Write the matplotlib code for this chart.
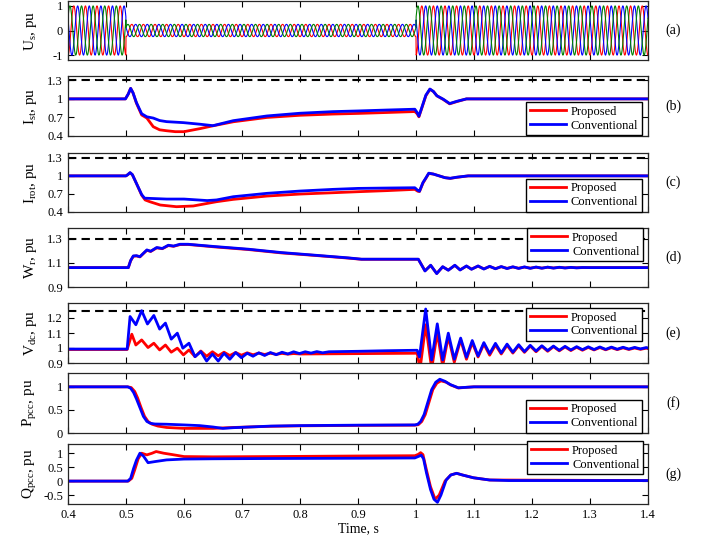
import numpy as np
import matplotlib
matplotlib.use("Agg")
import matplotlib.pyplot as plt

plt.rcParams["font.family"] = ["Liberation Serif", "DejaVu Serif"]
plt.rcParams["mathtext.fontset"] = "custom"
plt.rcParams["mathtext.rm"] = "Liberation Serif"
plt.rcParams["mathtext.it"] = "Liberation Serif"

# ----- data
# (a) grid voltage: 50 Hz three phase, amplitude per segment
us_seg_start = [0.4, 0.5, 1.0]
us_seg_end = [0.5, 1.0, 1.4]
us_seg_amp = [1.0, 0.25, 1.0]
us_freq = 50.0
us_colors = ["red", "blue", "green"]

# (b) stator current
ist_t_prop = [0.4, 0.499, 0.504, 0.508, 0.512, 0.518, 0.527, 0.536, 0.547, 0.558, 0.570,
              0.585, 0.600, 0.628, 0.650, 0.685, 0.743, 0.800, 0.857, 0.900, 0.950, 0.998,
              1.002, 1.005, 1.010, 1.017, 1.024, 1.030, 1.036, 1.047, 1.058, 1.070, 1.087, 1.4]
ist_prop = [1.0, 1.0, 1.08, 1.17, 1.10, 0.93, 0.74, 0.69, 0.55, 0.50, 0.485,
            0.47, 0.47, 0.52, 0.565, 0.63, 0.70, 0.735, 0.755, 0.765, 0.78, 0.795,
            0.76, 0.71, 0.85, 1.05, 1.155, 1.12, 1.05, 0.99, 0.92, 0.955, 1.0, 1.0]
ist_t_conv = [0.4, 0.499, 0.504, 0.508, 0.512, 0.518, 0.527, 0.536, 0.547, 0.558, 0.570,
              0.599, 0.628, 0.650, 0.685, 0.743, 0.800, 0.857, 0.900, 0.950, 0.998,
              1.002, 1.005, 1.010, 1.017, 1.024, 1.030, 1.036, 1.047, 1.058, 1.070, 1.087, 1.4]
ist_conv = [1.0, 1.0, 1.08, 1.17, 1.10, 0.94, 0.76, 0.71, 0.69, 0.65, 0.632,
            0.616, 0.59, 0.567, 0.648, 0.724, 0.768, 0.794, 0.805, 0.82, 0.833,
            0.78, 0.72, 0.86, 1.06, 1.16, 1.12, 1.05, 0.995, 0.925, 0.96, 1.0, 1.0]

# (c) rotor current
irot_t_prop = [0.4, 0.5, 0.503, 0.507, 0.511, 0.518, 0.527, 0.533, 0.541, 0.559, 0.587,
               0.616, 0.656, 0.685, 0.743, 0.800, 0.857, 0.900, 0.950, 0.998,
               1.003, 1.006, 1.012, 1.017, 1.022, 1.030, 1.040, 1.050, 1.059, 1.070, 1.090, 1.4]
irot_prop = [1.0, 1.0, 1.02, 1.05, 1.02, 0.875, 0.68, 0.60, 0.571, 0.516, 0.488,
             0.50, 0.571, 0.61, 0.665, 0.698, 0.72, 0.737, 0.755, 0.776,
             0.745, 0.74, 0.88, 0.96, 1.04, 1.03, 1.0, 0.97, 0.958, 0.975, 1.0, 1.0]
irot_t_conv = [0.4, 0.5, 0.503, 0.507, 0.511, 0.518, 0.527, 0.532, 0.541, 0.570, 0.600,
               0.640, 0.656, 0.685, 0.743, 0.800, 0.857, 0.900, 0.950, 0.998,
               1.003, 1.006, 1.012, 1.017, 1.022, 1.030, 1.040, 1.050, 1.059, 1.070, 1.090, 1.4]
irot_conv = [1.0, 1.0, 1.02, 1.055, 1.02, 0.875, 0.69, 0.63, 0.626, 0.615, 0.615,
             0.59, 0.60, 0.654, 0.71, 0.748, 0.776, 0.792, 0.798, 0.803,
             0.76, 0.745, 0.89, 0.965, 1.045, 1.03, 1.0, 0.97, 0.96, 0.978, 1.0, 1.0]

# (d) rotor speed
wr_t = [0.4, 0.504, 0.508, 0.5126, 0.518, 0.524, 0.530, 0.536, 0.5425, 0.553, 0.5626,
        0.573, 0.582, 0.593, 0.607, 0.619, 0.653, 0.711, 0.768, 0.826, 0.883, 0.906,
        1.004, 1.0155, 1.0253, 1.0357, 1.046, 1.0557, 1.067, 1.076, 1.087, 1.0957,
        1.107, 1.117, 1.127, 1.137, 1.147, 1.157, 1.167, 1.177, 1.187, 1.197, 1.207,
        1.217, 1.227, 1.237, 1.247, 1.257, 1.267, 1.277, 1.287, 1.30, 1.4]
wr_conv = [1.061, 1.061, 1.12, 1.158, 1.16, 1.152, 1.18, 1.208, 1.197, 1.228, 1.22,
           1.247, 1.24, 1.255, 1.255, 1.25, 1.236, 1.214, 1.186, 1.164, 1.142, 1.131,
           1.131, 1.033, 1.081, 1.011, 1.069, 1.039, 1.081, 1.041, 1.075, 1.047,
           1.075, 1.049, 1.072, 1.051, 1.070, 1.053, 1.068, 1.054, 1.067, 1.055, 1.066,
           1.056, 1.065, 1.057, 1.064, 1.058, 1.063, 1.059, 1.062, 1.061, 1.061]
wr_prop = [1.061, 1.061, 1.118, 1.155, 1.158, 1.15, 1.178, 1.205, 1.195, 1.225, 1.218,
           1.244, 1.238, 1.252, 1.253, 1.248, 1.233, 1.211, 1.183, 1.162, 1.140, 1.130,
           1.130, 1.035, 1.079, 1.013, 1.067, 1.041, 1.079, 1.043, 1.073, 1.049,
           1.073, 1.051, 1.070, 1.053, 1.068, 1.055, 1.066, 1.056, 1.065, 1.057, 1.064,
           1.057, 1.064, 1.058, 1.063, 1.059, 1.062, 1.060, 1.061, 1.061, 1.061]

# (e) DC-link voltage
vdc_t_conv = [0.4, 0.502, 0.507, 0.517, 0.527, 0.537, 0.548, 0.558, 0.568, 0.578, 0.5885,
              0.598, 0.6086, 0.619, 0.629, 0.639, 0.649, 0.659, 0.669, 0.679, 0.689,
              0.699, 0.709, 0.719, 0.729, 0.739, 0.749, 0.759, 0.769, 0.779, 0.789,
              0.799, 0.809, 0.819, 0.829, 0.839, 0.850, 0.900, 0.950, 1.002,
              1.006, 1.0167, 1.027, 1.0367, 1.046, 1.0557, 1.066, 1.077, 1.087, 1.097,
              1.107, 1.117, 1.127, 1.137, 1.147, 1.157, 1.167, 1.177, 1.187, 1.197,
              1.207, 1.217, 1.227, 1.237, 1.247, 1.257, 1.267, 1.277, 1.287, 1.297,
              1.307, 1.317, 1.327, 1.337, 1.347, 1.357, 1.367, 1.377, 1.387, 1.397, 1.4]
vdc_conv = [0.993, 0.993, 1.21, 1.155, 1.249, 1.16, 1.217, 1.126, 1.166, 1.059, 1.099,
            0.999, 1.032, 0.942, 0.976, 0.913, 0.96, 0.913, 0.965, 0.925, 0.97,
            0.935, 0.965, 0.945, 0.968, 0.95, 0.97, 0.955, 0.972, 0.96, 0.975,
            0.963, 0.975, 0.966, 0.976, 0.968, 0.975, 0.978, 0.982, 0.985,
            0.94, 1.26, 0.92, 1.161, 0.92, 1.099, 0.925, 1.066, 0.938, 1.05,
            0.947, 1.036, 0.963, 1.031, 0.967, 1.026, 0.972, 1.022, 0.976, 1.018,
            0.980, 1.015, 0.983, 1.013, 0.985, 1.011, 0.987, 1.009, 0.989, 1.008,
            0.990, 1.007, 0.991, 1.006, 0.992, 1.005, 0.993, 1.004, 0.994, 1.003, 1.0]
vdc_t_prop = [0.4, 0.502, 0.510, 0.517, 0.527, 0.538, 0.548, 0.558, 0.568, 0.578, 0.5885,
              0.599, 0.6086, 0.619, 0.629, 0.639, 0.649, 0.659, 0.669, 0.679, 0.689,
              0.699, 0.709, 0.719, 0.729, 0.739, 0.749, 0.759, 0.769, 0.779, 0.789,
              0.800, 1.002,
              1.007, 1.0167, 1.027, 1.0367, 1.046, 1.0557, 1.066, 1.077, 1.087, 1.097,
              1.107, 1.117, 1.127, 1.137, 1.147, 1.157, 1.167, 1.177, 1.187, 1.197,
              1.207, 1.217, 1.227, 1.237, 1.247, 1.257, 1.267, 1.277, 1.287, 1.297,
              1.307, 1.317, 1.327, 1.337, 1.347, 1.357, 1.367, 1.377, 1.387, 1.397, 1.4]
vdc_prop = [0.99, 0.99, 1.092, 1.02, 1.054, 1.003, 1.032, 0.987, 1.02, 0.972, 0.999,
            0.954, 0.987, 0.942, 0.98, 0.945, 0.975, 0.948, 0.972, 0.95, 0.97,
            0.952, 0.968, 0.955, 0.966, 0.957, 0.965, 0.958, 0.964, 0.959, 0.963,
            0.96, 0.965,
            0.86, 1.155, 0.86, 1.103, 0.88, 1.077, 0.905, 1.054, 0.925, 1.036,
            0.94, 1.026, 0.952, 1.02, 0.96, 1.018, 0.966, 1.015, 0.971, 1.013,
            0.975, 1.011, 0.978, 1.009, 0.981, 1.007, 0.983, 1.005, 0.985, 1.004,
            0.987, 1.003, 0.988, 1.002, 0.989, 1.001, 0.99, 1.0, 0.991, 0.999, 0.996]

# (f) active power at PCC
p_t_conv = [0.4, 0.503, 0.508, 0.513, 0.518, 0.524, 0.530, 0.536, 0.542, 0.550, 0.570,
            0.600, 0.627, 0.650, 0.667, 0.685, 0.750, 0.800, 0.900, 0.998,
            1.003, 1.008, 1.014, 1.020, 1.027, 1.034, 1.041, 1.050, 1.059, 1.073, 1.087, 1.100, 1.4]
p_conv = [1.0, 1.0, 0.97, 0.88, 0.74, 0.55, 0.36, 0.25, 0.21, 0.195, 0.19,
          0.175, 0.16, 0.13, 0.10, 0.115, 0.15, 0.16, 0.17, 0.175,
          0.19, 0.25, 0.40, 0.65, 0.94, 1.10, 1.165, 1.12, 1.05, 0.98, 0.99, 1.0, 1.0]
p_t_prop = [0.4, 0.503, 0.509, 0.515, 0.520, 0.526, 0.532, 0.538, 0.545, 0.555, 0.570,
            0.600, 0.650, 0.685, 0.750, 0.800, 0.900, 0.998,
            1.004, 1.010, 1.016, 1.022, 1.029, 1.036, 1.043, 1.052, 1.060, 1.073, 1.087, 1.100, 1.4]
p_prop = [1.0, 1.0, 0.985, 0.90, 0.76, 0.55, 0.36, 0.25, 0.19, 0.15, 0.12,
          0.10, 0.10, 0.12, 0.145, 0.155, 0.165, 0.17,
          0.18, 0.25, 0.40, 0.65, 0.94, 1.08, 1.13, 1.10, 1.04, 0.975, 0.99, 1.0, 1.0]

# (g) reactive power at PCC
q_t_conv = [0.4, 0.503, 0.508, 0.513, 0.518, 0.524, 0.530, 0.538, 0.550, 0.570, 0.600,
            0.650, 0.750, 0.900, 0.998, 1.006, 1.009, 1.013, 1.018, 1.025, 1.031,
            1.037, 1.043, 1.052, 1.060, 1.070, 1.080, 1.099, 1.127, 1.160, 1.4]
q_conv = [0.0, 0.0, 0.1, 0.45, 0.75, 1.0, 0.9, 0.66, 0.70, 0.76, 0.79,
          0.80, 0.81, 0.82, 0.83, 0.90, 0.93, 0.80, 0.30, -0.30, -0.65,
          -0.76, -0.50, 0.04, 0.22, 0.28, 0.22, 0.12, 0.04, 0.02, 0.02]
q_t_prop = [0.4, 0.504, 0.510, 0.515, 0.521, 0.527, 0.536, 0.545, 0.552, 0.565, 0.580,
            0.600, 0.650, 0.750, 0.900, 0.998, 1.004, 1.008, 1.012, 1.018, 1.025,
            1.033, 1.040, 1.050, 1.060, 1.070, 1.080, 1.099, 1.127, 1.4]
q_prop = [0.0, 0.0, 0.1, 0.40, 0.80, 1.0, 0.94, 1.0, 1.06, 1.0, 0.95,
          0.88, 0.87, 0.88, 0.90, 0.91, 0.96, 1.02, 0.95, 0.40, -0.20,
          -0.65, -0.50, 0.0, 0.22, 0.28, 0.22, 0.12, 0.04, 0.02]

ylabels = ["U$_s$, pu", "I$_{st}$, pu", "I$_{rot}$, pu", "W$_r$, pu",
           "V$_{dc}$, pu", "P$_{pcc}$, pu", "Q$_{pcc}$, pu"]
panel_tags = ["(a)", "(b)", "(c)", "(d)", "(e)", "(f)", "(g)"]
yticks = [[-1, 0, 1], [0.4, 0.7, 1, 1.3], [0.4, 0.7, 1, 1.3], [0.9, 1.1, 1.3],
          [0.9, 1, 1.1, 1.2], [0, 0.5, 1], [-0.5, 0, 0.5, 1]]
ylims = [(-1.2, 1.2), (0.4, 1.37), (0.4, 1.38), (0.9, 1.39), (0.9, 1.3),
         (0, 1.3), (-0.82, 1.33)]
limit_lines = [None, 1.3, 1.3, 1.3, 1.25, None, None]

# ----- layout (pixel rows of each panel in the 705x538 picture)
W, H = 705, 538
px_left, px_right = 68, 648
px_rows = [(1, 60), (76, 136), (153, 212), (228, 287), (303, 363), (373, 433), (444, 504)]

fig = plt.figure(figsize=(W / 100, H / 100), dpi=100)
axs = []
for top, bot in px_rows:
    ax = fig.add_axes([px_left / W, 1 - bot / H, (px_right - px_left) / W, (bot - top) / H])
    axs.append(ax)

# (a) three phase voltage
t_us = np.linspace(0.4, 1.4, 4001)
for k, col in enumerate(us_colors):
    amp = np.zeros_like(t_us)
    for t0, t1, a in zip(us_seg_start, us_seg_end, us_seg_amp):
        amp[(t_us >= t0) & (t_us <= t1)] = a
    axs[0].plot(t_us, amp * np.cos(2 * np.pi * us_freq * t_us + np.pi - 2 * np.pi * k / 3),
                color=col, lw=0.8)

series = [
    (ist_t_prop, ist_prop, ist_t_conv, ist_conv),
    (irot_t_prop, irot_prop, irot_t_conv, irot_conv),
    (wr_t, wr_prop, wr_t, wr_conv),
    (vdc_t_prop, vdc_prop, vdc_t_conv, vdc_conv),
    (p_t_prop, p_prop, p_t_conv, p_conv),
    (q_t_prop, q_prop, q_t_conv, q_conv),
]
legend_pos = [("lower right", (0.99, 0.01)), ("lower right", (0.99, 0.0)),
              ("upper right", (0.992, 1.0)), ("upper right", (0.99, 0.92)),
              ("lower right", (0.99, 0.0)), ("upper right", (0.992, 1.05))]

for i, (tp, yp, tc, yc) in enumerate(series):
    ax = axs[i + 1]
    ax.plot(tp, yp, color="red", lw=2, label="Proposed")
    ax.plot(tc, yc, color="blue", lw=2, label="Conventional")
    loc, anchor = legend_pos[i]
    ax.legend(loc=loc, bbox_to_anchor=anchor, fontsize=9, frameon=True, fancybox=False,
              edgecolor="black", framealpha=1, handlelength=2.9, borderpad=0.3,
              labelspacing=0.15, handletextpad=0.4, borderaxespad=0.0)

for i, ax in enumerate(axs):
    if limit_lines[i] is not None:
        ax.axhline(limit_lines[i], color="black", lw=1.5, ls=(0, (4, 2.5)), zorder=1)
    ax.set_xlim(0.4, 1.4)
    ax.set_ylim(*ylims[i])
    ax.set_yticks(yticks[i])
    ax.set_yticklabels([("%g" % v) for v in yticks[i]])
    ax.set_xticks(np.arange(4, 15) / 10)
    ax.tick_params(direction="in", top=True, right=True, length=4, labelsize=9, width=0.8)
    if i < len(axs) - 1:
        ax.set_xticklabels([])
    else:
        ax.set_xticklabels([("%g" % v) for v in np.arange(4, 15) / 10])
    for sp in ax.spines.values():
        sp.set_linewidth(0.9)
        sp.set_color("0.15")
    ax.set_ylabel(ylabels[i], fontsize=11)
    ax.yaxis.set_label_coords(-0.05, 0.5)
    top, bot = px_rows[i]
    fig.text(673 / W, 1 - (top + bot) / 2 / H, panel_tags[i], fontsize=10,
             ha="center", va="center")

axs[-1].set_xlabel("Time, s", fontsize=10, labelpad=1)

fig.savefig("out.png", dpi=100)
